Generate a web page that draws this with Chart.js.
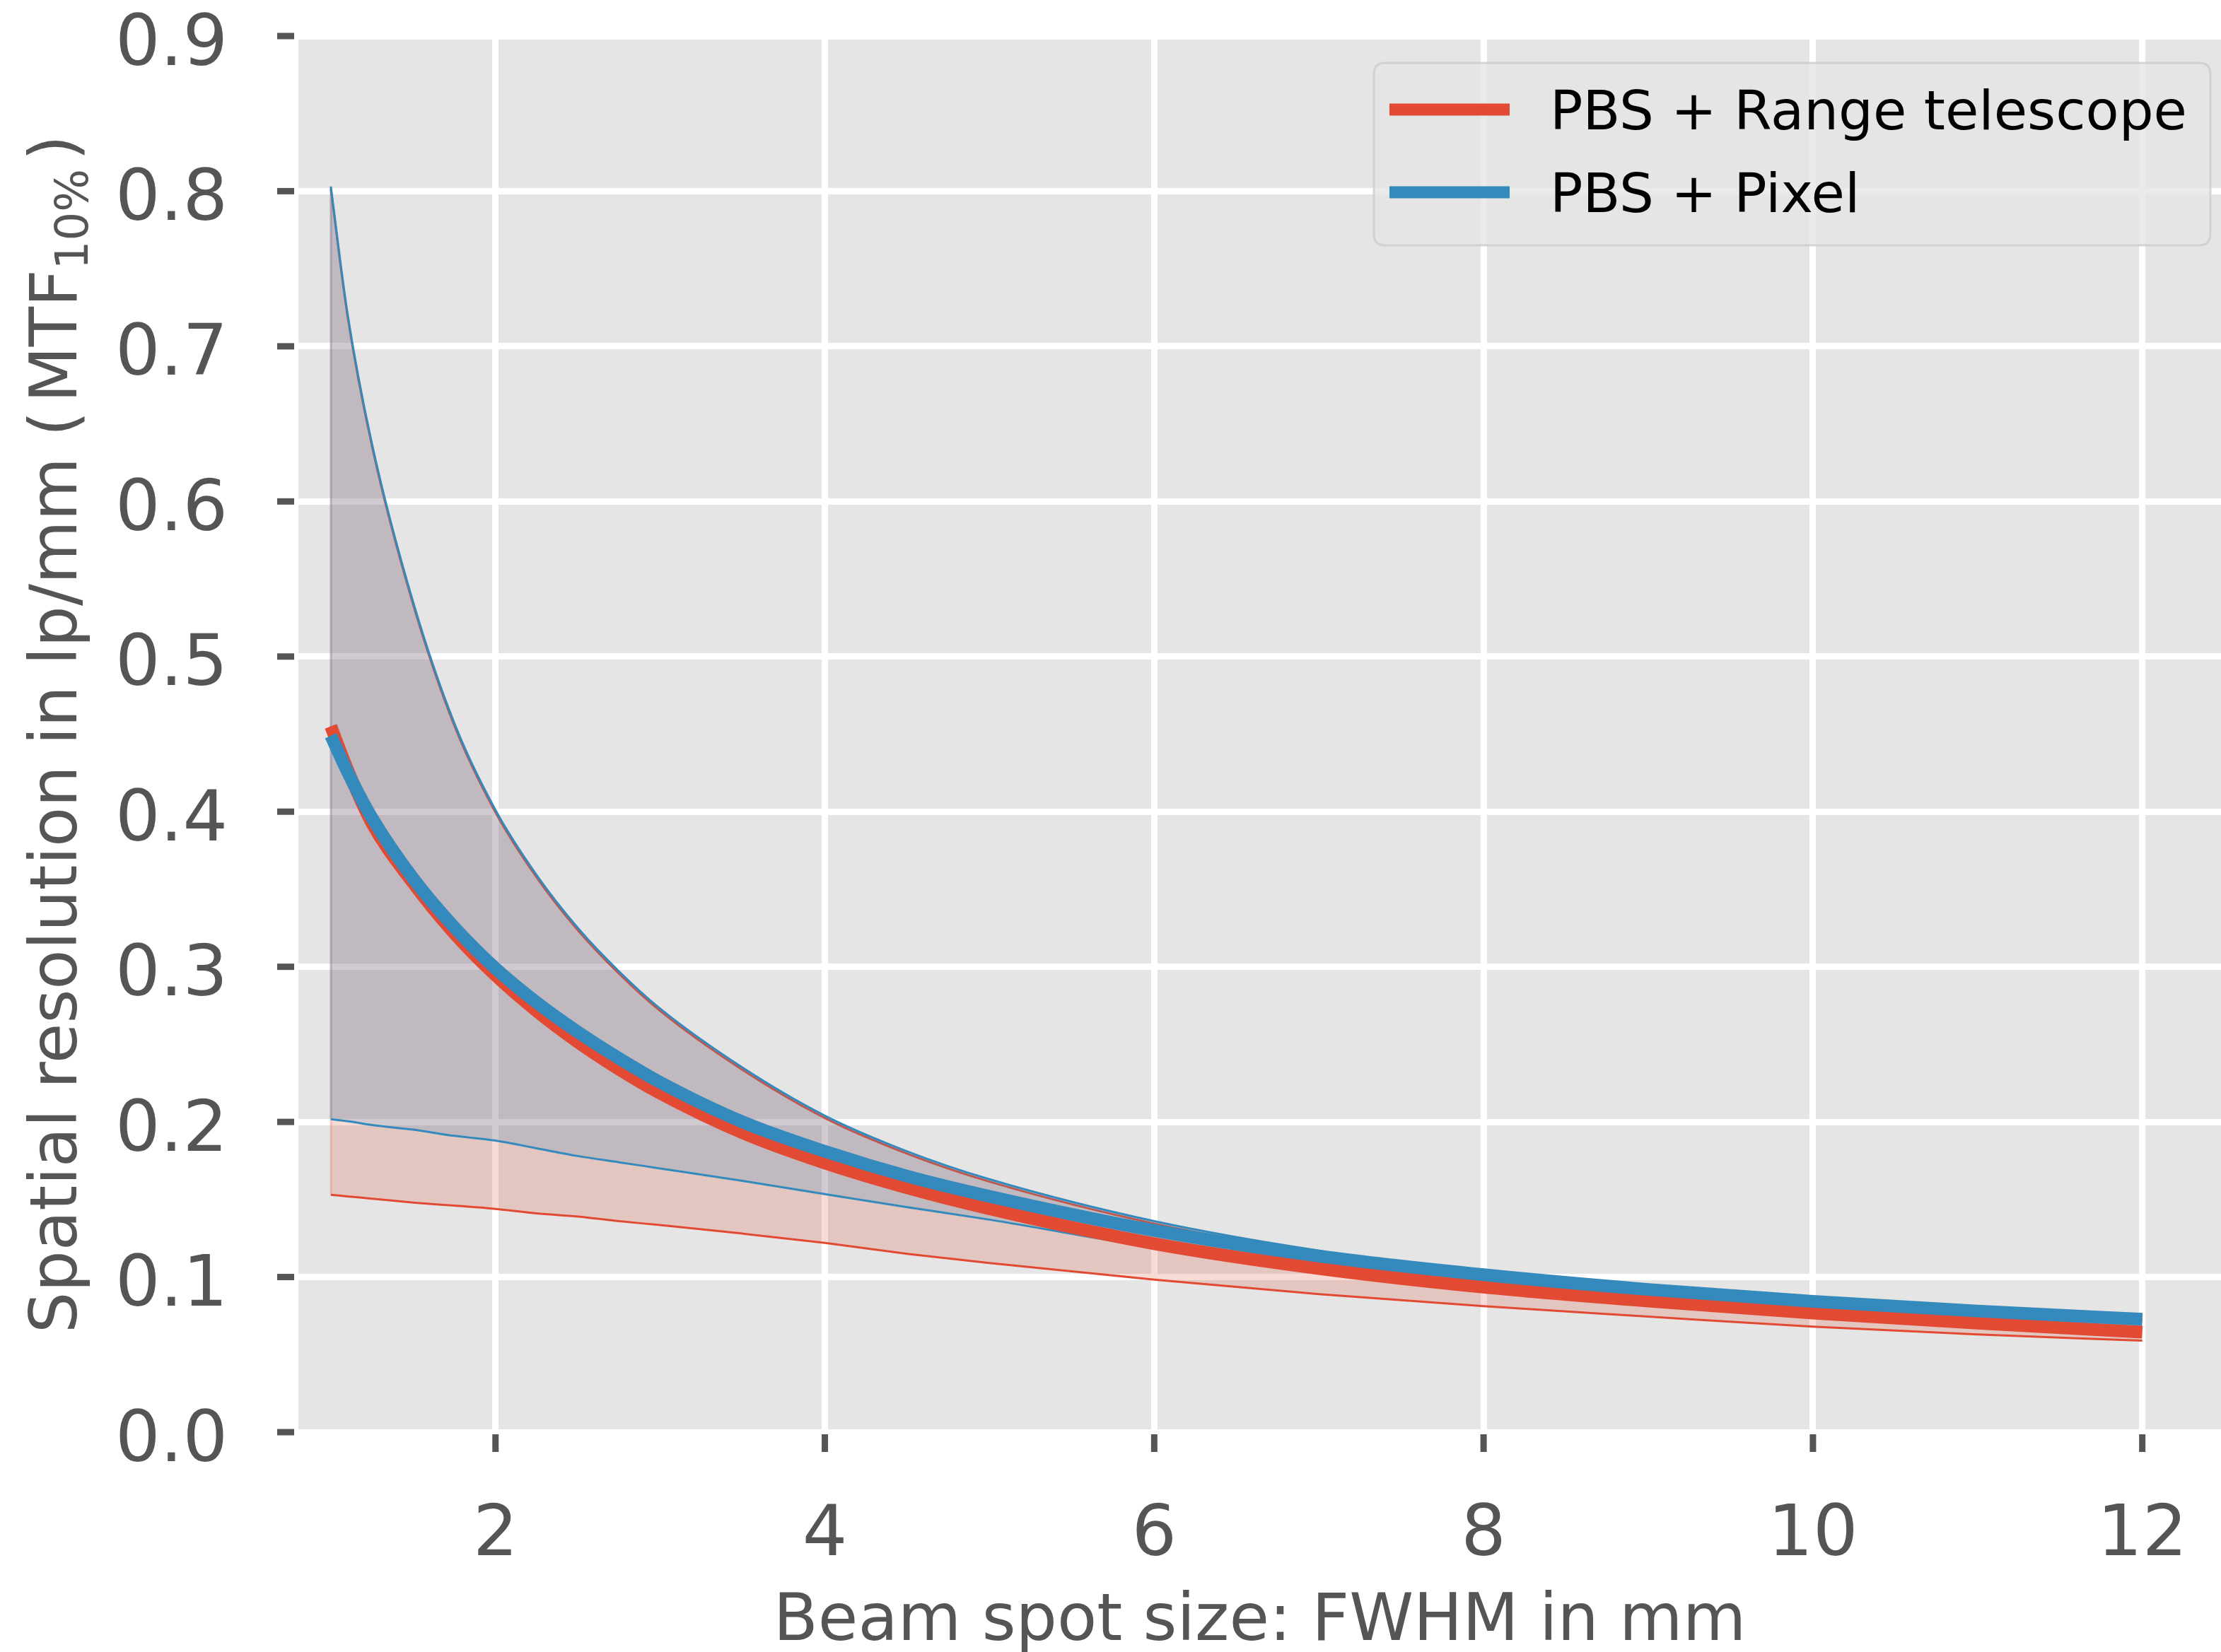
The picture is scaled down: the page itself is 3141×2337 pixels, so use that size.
<!DOCTYPE html>
<html>
<head>
<meta charset="utf-8">
<script src="https://cdn.jsdelivr.net/npm/chart.js@4.4.1/dist/chart.umd.min.js"></script>
<style>
html,body{margin:0;padding:0;background:#ffffff;}
canvas{display:block;}
</style>
</head>
<body>
<canvas id="c" width="3141" height="2337"></canvas>
<script>
// ---------------- data ----------------
const beamSpotFWHM = [1, 1.1, 1.25, 1.5, 1.75, 2, 2.25, 2.5, 2.75, 3, 3.5, 4, 4.5, 5, 6, 7, 8, 9, 10, 11, 12];

const rangeTelescopeMean  = [0.455, 0.4275, 0.3925, 0.354, 0.3215, 0.2945, 0.2715, 0.2515, 0.234, 0.2185, 0.193, 0.1735, 0.1575, 0.144, 0.1215, 0.1055, 0.0935, 0.0845, 0.0768, 0.0703, 0.0645];
const rangeTelescopeUpper = [0.8015, 0.7205, 0.6355, 0.5335, 0.4555, 0.3995, 0.3575, 0.3235, 0.2955, 0.2715, 0.2335, 0.2025, 0.1795, 0.1615, 0.1345, 0.1155, 0.102, 0.092, 0.0842, 0.0775, 0.072];
const rangeTelescopeLower = [0.153, 0.152, 0.1505, 0.148, 0.146, 0.1439, 0.141, 0.139, 0.136, 0.1335, 0.128, 0.122, 0.115, 0.109, 0.0983, 0.089, 0.0812, 0.0745, 0.068, 0.063, 0.059];

const pixelMean  = [0.449, 0.426, 0.396, 0.357, 0.3255, 0.299, 0.277, 0.258, 0.241, 0.2255, 0.200, 0.181, 0.165, 0.152, 0.130, 0.1135, 0.1015, 0.092, 0.0843, 0.0781, 0.0728];
const pixelUpper = [0.803, 0.722, 0.637, 0.535, 0.457, 0.401, 0.359, 0.325, 0.297, 0.273, 0.235, 0.204, 0.181, 0.163, 0.136, 0.117, 0.1035, 0.0935, 0.0857, 0.079, 0.0735];
const pixelLower = [0.2017, 0.2005, 0.198, 0.195, 0.191, 0.188, 0.183, 0.178, 0.174, 0.170, 0.162, 0.1535, 0.145, 0.137, 0.119, 0.106, 0.096, 0.088, 0.0795, 0.0735, 0.0675];

const seriesNames = ['PBS + Range telescope', 'PBS + Pixel'];
const xTickValues = [2, 4, 6, 8, 10, 12];
const yTickValues = [0.0, 0.1, 0.2, 0.3, 0.4, 0.5, 0.6, 0.7, 0.8, 0.9];
const xAxisTitle = 'Beam spot size: FWHM in mm';
const yAxisTitleParts = ['Spatial resolution in lp/mm (', 'MTF', '10%', ')'];

// ---------------- styling ----------------
const FONT = 'DejaVu Sans';
const RED = '#E24A33';
const BLUE = '#348ABD';
const RED_FILL = 'rgba(226,74,51,0.2)';
const BLUE_FILL = 'rgba(52,138,189,0.2)';
const TEXT_GREY = '#555555';

// glyph-centre offset for text drawn with textBaseline 'middle'
const mctx = document.createElement('canvas').getContext('2d');
function centreBelowMiddle(text, px) {
  mctx.font = px + 'px "' + FONT + '"';
  mctx.textBaseline = 'middle';
  const m = mctx.measureText(text);
  return (m.actualBoundingBoxDescent - m.actualBoundingBoxAscent) / 2;
}
const CANVAS_H = 2337, AREA_BOTTOM = 2026;
const dDigits = centreBelowMiddle('0123456789', 100);
const dCaps = centreBelowMiddle('BFWHM', 92);
const yLabelOffset = 3.5 - dDigits;                       // digits sit ~3.5px below their tick
const xLabelPadding = Math.max(0, 2163 - dDigits - AREA_BOTTOM - 60);
const xTitleHalf = Math.max(10, CANVAS_H - (2287 - dCaps));

const pts = ys => beamSpotFWHM.map((x, i) => ({x: x, y: ys[i]}));
const edge = (lo, hi) => [{x: beamSpotFWHM[0], y: lo[0]}, {x: beamSpotFWHM[0], y: hi[0]}];

const thin = (data, color, order, extra) => Object.assign({
  data: data, borderColor: color, borderWidth: 3, pointRadius: 0,
  cubicInterpolationMode: 'monotone', fill: false, order: order
}, extra || {});

const datasets = [
  thin(pts(rangeTelescopeLower), RED, 10),                                           // 0
  thin(pts(rangeTelescopeUpper), RED, 9, {fill: {target: 0}, backgroundColor: RED_FILL}), // 1
  {data: edge(rangeTelescopeLower, rangeTelescopeUpper), borderColor: 'rgba(226,74,51,0.25)', borderWidth: 3, pointRadius: 0, fill: false, order: 8}, // 2
  thin(pts(pixelLower), BLUE, 7),                                                    // 3
  thin(pts(pixelUpper), BLUE, 6, {fill: {target: 3}, backgroundColor: BLUE_FILL}),   // 4
  {data: edge(pixelLower, pixelUpper), borderColor: 'rgba(52,138,189,0.25)', borderWidth: 3, pointRadius: 0, fill: false, order: 5}, // 5
  {label: seriesNames[0], legendEntry: true, data: pts(rangeTelescopeMean), borderColor: RED, borderWidth: 18, pointRadius: 0, cubicInterpolationMode: 'monotone', fill: false, order: 2}, // 6
  {label: seriesNames[1], legendEntry: true, data: pts(pixelMean), borderColor: BLUE, borderWidth: 18, pointRadius: 0, cubicInterpolationMode: 'monotone', fill: false, order: 1}  // 7
];

// ---------------- plugins ----------------
const backgroundPlugin = {
  id: 'bg',
  beforeDraw(chart) {
    const {ctx, chartArea: a} = chart;
    ctx.save();
    ctx.fillStyle = '#ffffff';
    ctx.fillRect(0, 0, chart.width, chart.height);
    ctx.fillStyle = '#E5E5E5';
    ctx.fillRect(a.left, a.top, a.right - a.left, a.bottom - a.top);
    ctx.restore();
  }
};

const tickMarkPlugin = {
  id: 'tickMarks',
  afterDraw(chart) {
    const {ctx, chartArea: a} = chart;
    const xs = chart.scales.x, ys = chart.scales.y;
    ctx.save();
    ctx.fillStyle = TEXT_GREY;
    ys.ticks.forEach(t => {
      const p = ys.getPixelForValue(t.value);
      ctx.fillRect(a.left - 30, p - 4.5, 24, 9);
    });
    xs.ticks.forEach(t => {
      const p = xs.getPixelForValue(t.value);
      ctx.fillRect(p - 4.5, a.bottom + 3, 9, 25);
    });
    ctx.restore();
  }
};

const yTitlePlugin = {
  id: 'yTitle',
  afterDraw(chart) {
    const {ctx, chartArea: a} = chart;
    const mainFont = '92px "' + FONT + '"';
    const subFont = '64px "' + FONT + '"';
    const gap = 12;
    ctx.save();
    ctx.font = mainFont;
    const w0 = ctx.measureText(yAxisTitleParts[0]).width;
    const w1 = ctx.measureText(yAxisTitleParts[1]).width;
    const w3 = ctx.measureText(yAxisTitleParts[3]).width;
    ctx.font = subFont;
    const w2 = ctx.measureText(yAxisTitleParts[2]).width;
    const total = w0 + gap + w1 + w2 + gap + w3;
    ctx.translate(108, (a.top + a.bottom) / 2);
    ctx.rotate(-Math.PI / 2);
    ctx.fillStyle = TEXT_GREY;
    ctx.textBaseline = 'alphabetic';
    ctx.textAlign = 'left';
    let x = -total / 2;
    ctx.font = mainFont;
    ctx.fillText(yAxisTitleParts[0], x, 0); x += w0 + gap;
    ctx.fillText(yAxisTitleParts[1], x, 0); x += w1;
    ctx.font = subFont;
    ctx.fillText(yAxisTitleParts[2], x, 16); x += w2 + gap;
    ctx.font = mainFont;
    ctx.fillText(yAxisTitleParts[3], x, 0);
    ctx.restore();
  }
};

const legendPlugin = {
  id: 'customLegend',
  afterDraw(chart) {
    const {ctx} = chart;
    const entries = chart.data.datasets.filter(d => d.legendEntry);
    const bx = 1943, by = 89, bw = 1183, bh = 258, r = 16;
    ctx.save();
    ctx.beginPath();
    ctx.moveTo(bx + r, by);
    ctx.lineTo(bx + bw - r, by);
    ctx.quadraticCurveTo(bx + bw, by, bx + bw, by + r);
    ctx.lineTo(bx + bw, by + bh - r);
    ctx.quadraticCurveTo(bx + bw, by + bh, bx + bw - r, by + bh);
    ctx.lineTo(bx + r, by + bh);
    ctx.quadraticCurveTo(bx, by + bh, bx, by + bh - r);
    ctx.lineTo(bx, by + r);
    ctx.quadraticCurveTo(bx, by, bx + r, by);
    ctx.closePath();
    ctx.fillStyle = 'rgba(229,229,229,0.8)';
    ctx.fill();
    ctx.lineWidth = 3;
    ctx.strokeStyle = 'rgba(204,204,204,0.8)';
    ctx.stroke();
    entries.forEach((d, i) => {
      const cy = 155 + i * 117;
      ctx.beginPath();
      ctx.moveTo(1965, cy);
      ctx.lineTo(2135, cy);
      ctx.lineWidth = 17;
      ctx.lineCap = 'butt';
      ctx.strokeStyle = d.borderColor;
      ctx.stroke();
      ctx.fillStyle = '#000000';
      ctx.font = '77px "' + FONT + '"';
      ctx.textBaseline = 'alphabetic';
      ctx.textAlign = 'left';
      ctx.fillText(d.label, 2192, cy + 28);
    });
    ctx.restore();
  }
};

// ---------------- chart ----------------
Chart.defaults.font.family = FONT;

new Chart(document.getElementById('c'), {
  type: 'line',
  data: {datasets: datasets},
  options: {
    responsive: false,
    devicePixelRatio: 1,
    animation: false,
    layout: {padding: {top: 51, right: 0, bottom: 0, left: 0}},
    plugins: {
      legend: {display: false},
      tooltip: {enabled: false},
      filler: {propagate: false}
    },
    scales: {
      x: {
        type: 'linear',
        min: 0.803,
        max: 12.478,
        afterBuildTicks: s => { s.ticks = xTickValues.map(v => ({value: v})); },
        afterFit: s => { s.height = CANVAS_H - AREA_BOTTOM; s.paddingLeft = 0; s.paddingRight = 0; },
        ticks: {
          font: {family: FONT, size: 100, lineHeight: 1.2},
          color: TEXT_GREY,
          padding: xLabelPadding,
          maxRotation: 0,
          autoSkip: false,
          callback: v => String(v)
        },
        grid: {color: '#ffffff', lineWidth: 9, drawTicks: false},
        border: {display: false},
        title: {
          display: true,
          text: xAxisTitle,
          font: {family: FONT, size: 92, lineHeight: Math.round(2 * xTitleHalf) + 'px'},
          color: TEXT_GREY,
          padding: 0
        }
      },
      y: {
        type: 'linear',
        min: 0,
        max: 0.9,
        afterBuildTicks: s => { s.ticks = yTickValues.map(v => ({value: v})); },
        afterFit: s => { s.width = 422; s.paddingTop = 0; s.paddingBottom = 0; },
        ticks: {
          font: {family: FONT, size: 100, lineHeight: 1.0},
          color: TEXT_GREY,
          padding: 100,
          labelOffset: yLabelOffset,
          autoSkip: false,
          callback: v => Number(v).toFixed(1)
        },
        grid: {color: '#ffffff', lineWidth: 9, drawTicks: false},
        border: {display: false}
      }
    }
  },
  plugins: [backgroundPlugin, tickMarkPlugin, yTitlePlugin, legendPlugin]
});
</script>
</body>
</html>
